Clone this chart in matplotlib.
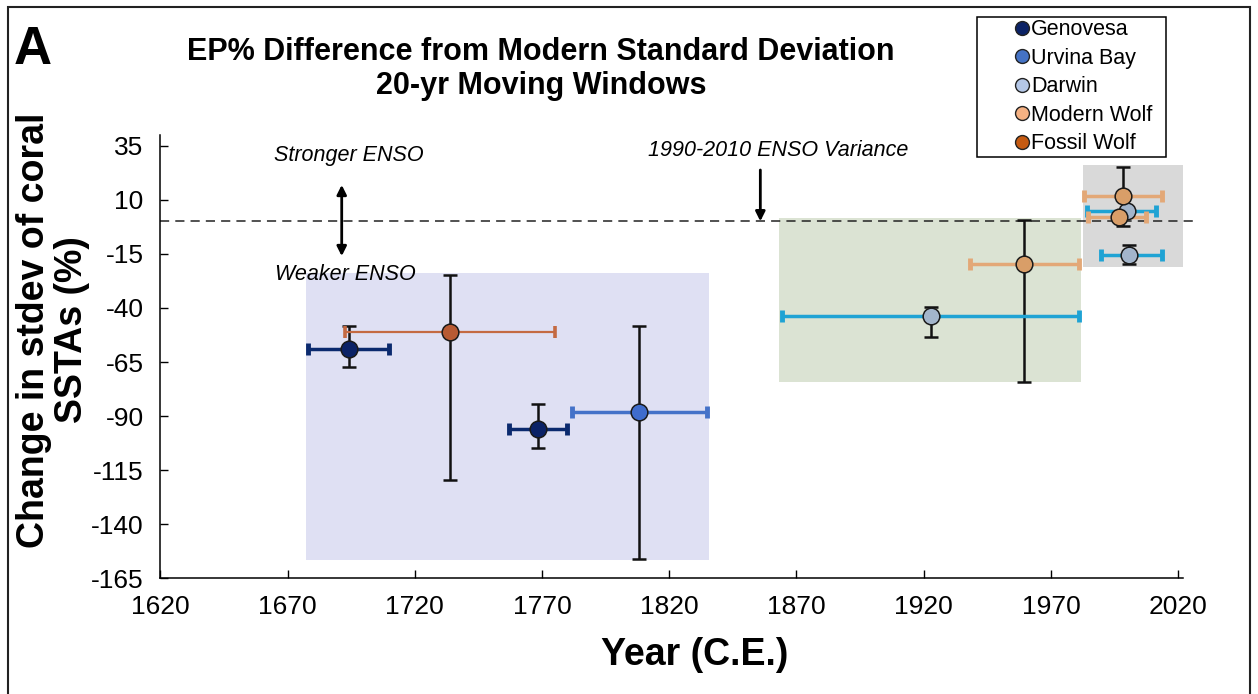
import numpy as np
import matplotlib
matplotlib.use("Agg")
import matplotlib.pyplot as plt
from matplotlib.patches import Rectangle
from matplotlib.lines import Line2D

plt.rcParams['font.family'] = ['Liberation Sans', 'DejaVu Sans']
plt.rcParams['axes.unicode_minus'] = False

# site records: centre year, % change, and asymmetric error extents
gen_x = [1694.0, 1768.5]
gen_y = [-59.0, -96.0]
gen_xerr = [[16.0, 11.5], [16.0, 11.5]]
gen_yerr = [[8.5, 8.7], [10.5, 11.8]]

urv_x = [1808.3]
urv_y = [-88.0]
urv_xerr = [[26.5], [26.5]]
urv_yerr = [[67.9], [39.5]]

fos_x = [1733.8]
fos_y = [-51.3]
fos_xerr = [[41.3], [41.3]]
fos_yerr = [[68.2], [26.7]]

dar_x = [1922.7, 1999.7, 2000.6]
dar_y = [-43.9, 5.0, -15.3]
dar_xerr = [[58.4, 15.5, 10.8], [58.5, 11.6, 12.9]]
dar_yerr = [[9.5, 0.0, 4.3], [4.5, 0.0, 4.4]]

mod_x = [1959.5, 1998.2, 1996.7]
mod_y = [-19.6, 11.7, 2.3]
mod_xerr = [[21.5, 15.2, 12.2], [21.7, 15.3, 10.7]]
mod_yerr = [[54.5, 13.6, 0.0], [20.5, 13.4, 0.0]]

# shaded periods: start, end, low, high
win_start = [1677.2, 1863.3, 1982.5]
win_end = [1835.8, 1981.9, 2021.8]
win_low = [-156.5, -74.1, -21.2]
win_high = [-23.7, 1.7, 25.9]
win_colors = ['#dfe0f3', '#dbe3d3', '#d9d9d9']

xticks = np.arange(1620, 2021, 50)
yticks = np.arange(35, -166, -25)

fig = plt.figure(figsize=(12.58, 6.94), dpi=100)
ax = fig.add_axes([0.1274, 0.1667, 0.8132, 0.6388])

for s, e, lo, hi, c in zip(win_start, win_end, win_low, win_high, win_colors):
    ax.add_patch(Rectangle((s, lo), e - s, hi - lo, facecolor=c, edgecolor='none', zorder=0))

ax.plot([1620, 2027], [0, 0], ls=(0, (6, 4)), color='#222222', lw=1.1, zorder=1, clip_on=False)


def draw_site(x, y, xerr, yerr, face, xcol, xlw):
    ax.errorbar(x, y, yerr=yerr, fmt='none', ecolor='#111111', elinewidth=1.8,
                capsize=5, capthick=1.8, zorder=2)
    ax.errorbar(x, y, xerr=xerr, fmt='none', ecolor=xcol, elinewidth=xlw,
                capsize=4, capthick=xlw + 1, zorder=3)
    ax.plot(x, y, 'o', ms=12, mfc=face, mec='#1a1a1a', mew=1.1, ls='none', zorder=4)


draw_site(gen_x, gen_y, gen_xerr, gen_yerr, '#0b2266', '#0b2a6e', 2.5)
draw_site(fos_x, fos_y, fos_xerr, fos_yerr, '#b85a33', '#c46a42', 1.6)
draw_site(urv_x, urv_y, urv_xerr, urv_yerr, '#3f6ccc', '#4472c8', 2.5)
draw_site(dar_x, dar_y, dar_xerr, dar_yerr, '#a3b5cb', '#1fa3d4', 2.5)
draw_site(mod_x, mod_y, mod_xerr, mod_yerr, '#d99e68', '#e3a877', 2.5)

ax.set_xlim(1620, 2022)
ax.set_ylim(-165, 40)
ax.set_xticks(xticks)
ax.set_yticks(yticks)
ax.tick_params(direction='in', length=6, width=1, labelsize=19, pad=12)
for side in ['top', 'right']:
    ax.spines[side].set_visible(False)
for side in ['left', 'bottom']:
    ax.spines[side].set_linewidth(1.1)

# ENSO strength annotations
ax.annotate('', xy=(1691.3, 18.2), xytext=(1691.3, -17.3),
            arrowprops=dict(arrowstyle='<|-|>', color='black', lw=2, mutation_scale=14))
ax.text(1694.2, 30.5, 'Stronger ENSO', style='italic', fontsize=15.5, ha='center', va='center')
ax.text(1692.9, -24.6, 'Weaker ENSO', style='italic', fontsize=15.5, ha='center', va='center')
ax.annotate('', xy=(1855.8, -1.2), xytext=(1855.8, 25.1),
            arrowprops=dict(arrowstyle='-|>', color='black', lw=2, mutation_scale=14))
ax.text(1863, 32.8, '1990-2010 ENSO Variance', style='italic', fontsize=15.5, ha='center', va='center')

fig.text(0.43, 1 - 69 / 694, 'EP% Difference from Modern Standard Deviation\n20-yr Moving Windows',
         ha='center', va='center', fontsize=22, weight='bold', linespacing=1.2)
fig.text(53 / 1258, 1 - 330 / 694, 'Change in stdev of coral\nSSTAs (%)', rotation=90,
         ha='center', va='center', fontsize=27, weight='bold', multialignment='center',
         linespacing=1.05)
fig.text(695 / 1258, 1 - 655 / 694, 'Year (C.E.)', ha='center', va='center',
         fontsize=27, weight='bold')
fig.text(14 / 1258, 1 - 50 / 694, 'A', ha='left', va='center', fontsize=38, weight='bold')

handles = [
    Line2D([], [], ls='none', marker='o', ms=10, mfc='#0b2266', mec='#222222', label='Genovesa'),
    Line2D([], [], ls='none', marker='o', ms=10, mfc='#4472c4', mec='#222222', label='Urvina Bay'),
    Line2D([], [], ls='none', marker='o', ms=10, mfc='#b4c7e7', mec='#222222', label='Darwin'),
    Line2D([], [], ls='none', marker='o', ms=10, mfc='#f4b183', mec='#222222', label='Modern Wolf'),
    Line2D([], [], ls='none', marker='o', ms=10, mfc='#c55a11', mec='#222222', label='Fossil Wolf'),
]
fig.legend(handles=handles, loc='upper left', bbox_to_anchor=(977 / 1258, 1 - 17 / 694),
           fontsize=15.5, frameon=False, handlelength=4.0,
           handletextpad=-1.6, labelspacing=0.35, borderpad=0.1, borderaxespad=0)

# legend box and outer panel frame
fig.patches.append(Rectangle((977 / 1258, 1 - 157 / 694), 189 / 1258, 140 / 694,
                             transform=fig.transFigure, facecolor='white', edgecolor='black',
                             lw=1.1, zorder=0))
fig.patches.append(Rectangle((8 / 1258, -0.05), 1242 / 1258, 1 - 7 / 694 + 0.05,
                             transform=fig.transFigure, fill=False, edgecolor='#222222', lw=1.5))

fig.savefig('out.png', dpi=100)
